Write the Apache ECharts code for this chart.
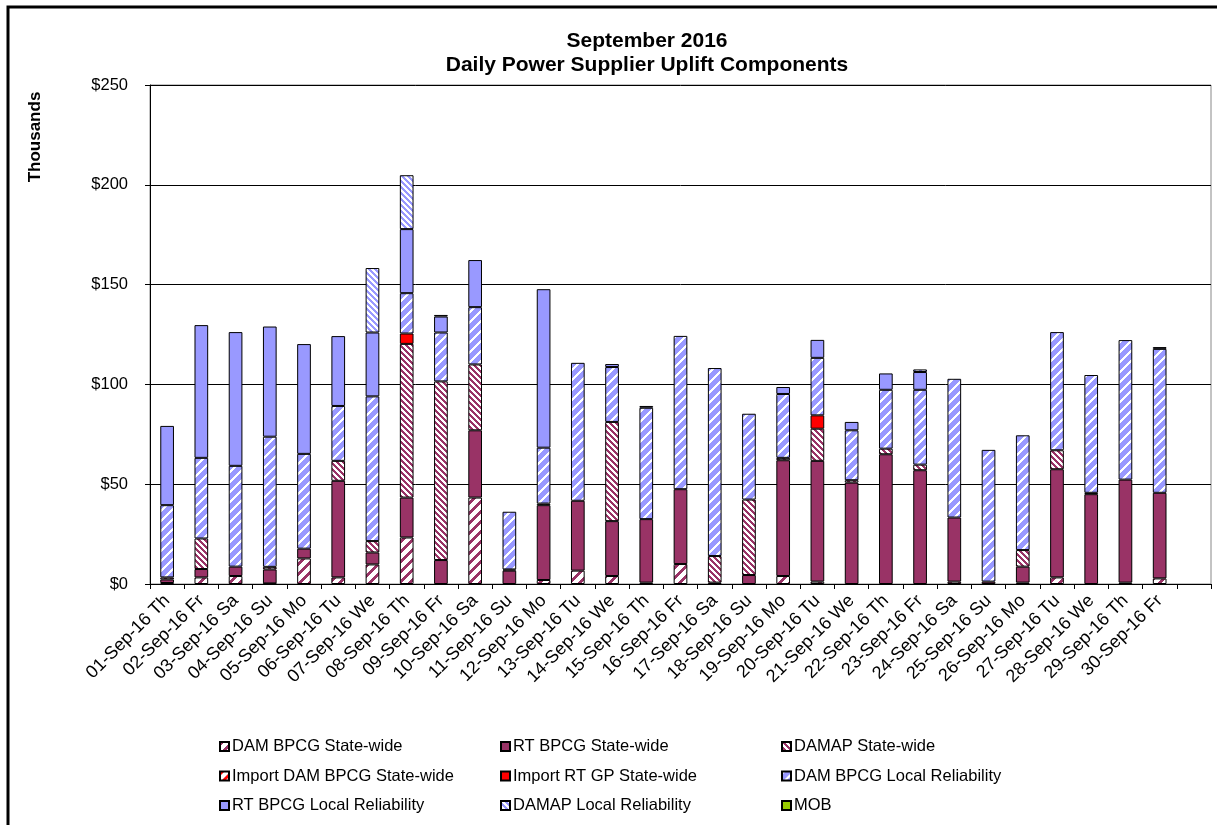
<!DOCTYPE html>
<html>
<head>
<meta charset="utf-8">
<script src="https://cdn.jsdelivr.net/npm/echarts@6/dist/echarts.min.js"></script>
<style>
  html, body { margin: 0; padding: 0; background: #fff; }
  #chart { width: 1217px; height: 825px; }
</style>
</head>
<body>
<div id="chart"></div>
<script>
// categories (the template has a blank 31st slot)
const days = [
  '01-Sep-16 Th', '02-Sep-16 Fr', '03-Sep-16 Sa', '04-Sep-16 Su', '05-Sep-16 Mo',
  '06-Sep-16 Tu', '07-Sep-16 We', '08-Sep-16 Th', '09-Sep-16 Fr', '10-Sep-16 Sa',
  '11-Sep-16 Su', '12-Sep-16 Mo', '13-Sep-16 Tu', '14-Sep-16 We', '15-Sep-16 Th',
  '16-Sep-16 Fr', '17-Sep-16 Sa', '18-Sep-16 Su', '19-Sep-16 Mo', '20-Sep-16 Tu',
  '21-Sep-16 We', '22-Sep-16 Th', '23-Sep-16 Fr', '24-Sep-16 Sa', '25-Sep-16 Su',
  '26-Sep-16 Mo', '27-Sep-16 Tu', '28-Sep-16 We', '29-Sep-16 Th', '30-Sep-16 Fr', ''
];

// values in $ thousands
const damBpcgSw = [0.5, 3.3, 4.0, 0.3, 12.8, 3.3, 9.8, 23.3, 0, 43.3, 0, 2.0, 6.7, 4.0, 0.7, 10.0, 0, 0, 4.0, 1.2, 0, 0, 0, 1.2, 0, 0.7, 3.3, 0, 0.7, 2.8];
const rtBpcgSw = [1.8, 4.2, 4.7, 7.0, 4.9, 48.4, 6.0, 20.0, 12.0, 33.7, 6.7, 37.5, 35.0, 27.5, 31.8, 37.5, 0.7, 4.5, 58.0, 60.5, 50.8, 65.0, 57.0, 32.1, 1.2, 8.0, 54.2, 45.0, 51.6, 42.9];
const damapSw = [1.0, 15.3, 0, 1.3, 0, 10.0, 5.7, 77.0, 89.5, 33.0, 0.6, 0.8, 0, 49.7, 0, 0, 13.3, 37.8, 1.2, 16.1, 1.2, 2.8, 2.8, 0, 0, 8.3, 9.5, 0.7, 0, 0];
const importDamBpcgSw = [0, 0, 0, 0, 0, 0, 0, 0, 0, 0, 0, 0, 0, 0, 0, 0, 0, 0, 0, 0, 0, 0, 0, 0, 0, 0, 0, 0, 0, 0];
const importRtGpSw = [0, 0, 0, 0, 0, 0, 0, 5.2, 0, 0, 0, 0, 0, 0, 0, 0, 0, 0, 0, 6.7, 0, 0, 0, 0, 0, 0, 0, 0, 0, 0];
const damBpcgLr = [36.2, 40.4, 50.5, 65.2, 47.5, 27.5, 72.5, 20.2, 24.5, 28.7, 28.9, 28.0, 69.1, 27.5, 55.8, 76.8, 94.2, 43.0, 32.0, 28.8, 25.0, 29.5, 37.5, 69.5, 66.0, 57.5, 59.2, 59.0, 69.9, 72.1];
const rtBpcgLr = [39.7, 66.5, 67.0, 55.2, 55.0, 35.0, 32.0, 32.1, 8.0, 23.6, 0, 79.4, 0, 1.5, 0.9, 0, 0, 0, 3.5, 9.0, 4.2, 8.2, 8.9, 0, 0, 0, 0, 0, 0, 0.9];
const damapLr = [0, 0, 0, 0, 0, 0, 32.3, 27.0, 0.8, 0, 0, 0, 0, 0, 0, 0, 0, 0, 0, 0, 0, 0, 1.3, 0, 0, 0, 0, 0, 0, 0];
const mob = [0, 0, 0, 0, 0, 0, 0, 0, 0, 0, 0, 0, 0, 0, 0, 0, 0, 0, 0, 0, 0, 0, 0, 0, 0, 0, 0, 0, 0, 0];

const yTicks = [0, 50, 100, 150, 200, 250];

const MAROON = [153, 51, 102];
const LAVENDER = [153, 153, 255];
const WHITE = [255, 255, 255];
const RED = [255, 0, 0];

// diagonal stripe fill, '/' or '\'
function stripes(bg, fg, p, w, dir) {
  const c = document.createElement('canvas');
  c.width = p;
  c.height = p;
  const ctx = c.getContext('2d');
  const img = ctx.createImageData(p, p);
  for (let y = 0; y < p; y++) {
    for (let x = 0; x < p; x++) {
      const k = dir === '/' ? (x + y) % p : ((x - y) % p + p) % p;
      const col = k < w ? fg : bg;
      const i = (y * p + x) * 4;
      img.data[i] = col[0];
      img.data[i + 1] = col[1];
      img.data[i + 2] = col[2];
      img.data[i + 3] = 255;
    }
  }
  ctx.putImageData(img, 0, 0);
  return { image: c, repeat: 'repeat' };
}

const seriesDefs = [
  { name: 'DAM BPCG State-wide', data: damBpcgSw, color: stripes(WHITE, MAROON, 10, 4, '/') },
  { name: 'RT BPCG State-wide', data: rtBpcgSw, color: '#993366' },
  { name: 'DAMAP State-wide', data: damapSw, color: stripes(WHITE, MAROON, 6, 3, '\\') },
  { name: 'Import DAM BPCG State-wide', data: importDamBpcgSw, color: stripes(WHITE, RED, 10, 4, '/') },
  { name: 'Import RT GP State-wide', data: importRtGpSw, color: '#ff0000' },
  { name: 'DAM BPCG Local Reliability', data: damBpcgLr, color: stripes(LAVENDER, WHITE, 10, 3, '/') },
  { name: 'RT BPCG Local Reliability', data: rtBpcgLr, color: '#9999ff' },
  { name: 'DAMAP Local Reliability', data: damapLr, color: stripes(LAVENDER, WHITE, 6, 3, '\\') },
  { name: 'MOB', data: mob, color: '#99cc00' }
];

const font = '"Liberation Sans", Arial, sans-serif';

const chart = echarts.init(document.getElementById('chart'));

chart.setOption({
  animation: false,
  backgroundColor: '#fff',
  title: {
    text: 'September 2016\nDaily Power Supplier Uplift Components',
    left: 642,
    textAlign: 'center',
    top: 24,
    textStyle: { fontFamily: font, fontSize: 21, fontWeight: 'bold', color: '#000', lineHeight: 24 }
  },
  graphic: [
    {
      type: 'rect',
      shape: { x: 8, y: 7, width: 1400, height: 1000 },
      style: { fill: 'none', stroke: '#000', lineWidth: 3 },
      silent: true
    },
    {
      type: 'text',
      x: 35,
      y: 137,
      rotation: Math.PI / 2,
      style: {
        text: 'Thousands',
        font: 'bold 17px ' + font,
        fill: '#000',
        align: 'center',
        verticalAlign: 'middle'
      }
    }
  ],
  legend: [
    { names: [0, 3, 6], left: 214 },
    { names: [1, 4, 7], left: 495 },
    { names: [2, 5, 8], left: 776 }
  ].map((col) => ({
    orient: 'vertical',
    left: col.left,
    top: 733,
    itemWidth: 9,
    itemHeight: 9,
    itemGap: 12.5,
    icon: 'rect',
    selectedMode: false,
    data: col.names.map((i) => seriesDefs[i].name),
    textStyle: { fontFamily: font, fontSize: 16.5, color: '#000', padding: [0, 0, 0, -2] }
  })),
  grid: {
    left: 150,
    right: 6,
    top: 85,
    bottom: 241,
    show: true,
    borderColor: '#888',
    borderWidth: 1
  },
  xAxis: {
    type: 'category',
    data: days,
    axisLine: { lineStyle: { color: '#000', width: 1 } },
    axisTick: { show: true, interval: 0, length: 5, lineStyle: { color: '#000' } },
    axisLabel: {
      interval: 0,
      rotate: 45,
      margin: 14,
      fontFamily: font,
      fontSize: 18,
      color: '#000'
    }
  },
  yAxis: {
    type: 'value',
    min: yTicks[0],
    max: yTicks[yTicks.length - 1],
    interval: 50,
    axisLine: { show: true, lineStyle: { color: '#000', width: 1 } },
    axisTick: { show: true, length: 5, lineStyle: { color: '#000' } },
    axisLabel: {
      margin: 22,
      fontFamily: font,
      fontSize: 16.5,
      color: '#000',
      formatter: (v) => '$' + v
    },
    splitLine: { show: true, lineStyle: { color: '#000', width: 1 } }
  },
  series: seriesDefs.map((s) => ({
    name: s.name,
    type: 'bar',
    stack: 'uplift',
    barWidth: '40%',
    data: s.data.map((v) => (v > 0 ? v : '-')),
    itemStyle: { color: s.color, borderColor: '#000', borderWidth: 1 }
  }))
});
</script>
</body>
</html>
